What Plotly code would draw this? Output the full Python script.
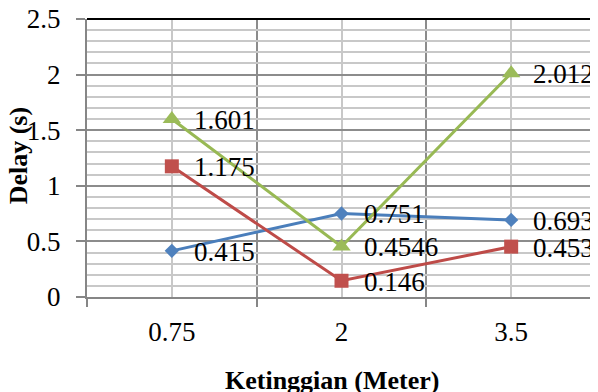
import plotly.graph_objects as go

categories = ["0.75", "2", "3.5"]
series_blue = [0.415, 0.751, 0.693]
series_red = [1.175, 0.146, 0.453]
series_green = [1.601, 0.4546, 2.012]
label_blue = ["0.415", "0.751", "0.693"]
label_red = ["1.175", "0.146", "0.453"]
label_green = ["1.601", "0.4546", "2.012"]
y_ticks = [0, 0.5, 1, 1.5, 2, 2.5]
y_ticktext = ["0", "0.5", "1", "1.5", "2", "2.5"]

xpos = list(range(len(categories)))
FONT = "Liberation Serif"

fig = go.Figure()
specs = [
    (series_blue, label_blue, "#4A7EBB", "#4F81BD", "diamond", 11),
    (series_red, label_red, "#BE4B48", "#C0504D", "square", 14),
    (series_green, label_green, "#98B954", "#9BBB59", "triangle-up", 16),
]
annotations = []
for vals, labels, lc, mc, sym, ms in specs:
    fig.add_trace(go.Scatter(
        x=xpos, y=vals, mode="lines+markers",
        line=dict(color=lc, width=3),
        marker=dict(symbol=sym, size=ms, color=mc, line=dict(width=0)),
        showlegend=False, hoverinfo="skip"))
    for xv, yv, t in zip(xpos, vals, labels):
        annotations.append(dict(
            x=xv, y=yv, xref="x", yref="y", text=t, showarrow=False,
            xanchor="left", yanchor="middle", xshift=20, yshift=-1,
            font=dict(family=FONT, size=27, color="black")))

annotations.append(dict(
    text="<b>Ketinggian (Meter)</b>", xref="paper", yref="paper",
    x=0.482, y=-0.30, xanchor="center", yanchor="middle", showarrow=False,
    font=dict(family=FONT, size=26, color="black")))
annotations.append(dict(
    text="<b>Delay (s)</b>", xref="paper", yref="paper", textangle=-90,
    x=-0.135, y=0.507, xanchor="center", yanchor="middle", showarrow=False,
    font=dict(family=FONT, size=26, color="black")))

# the page body has an 8px margin, so the figure is sized to fill the window from there
fig.update_layout(
    width=590, height=384,
    margin=dict(l=79, r=2, t=11, b=95),
    paper_bgcolor="white", plot_bgcolor="white",
    annotations=annotations,
    shapes=[
        dict(type="line", xref="paper", yref="paper", x0=0, x1=1, y0=1, y1=1,
             line=dict(color="black", width=2), layer="above"),
        dict(type="line", xref="paper", yref="paper", x0=1, x1=1, y0=0, y1=1,
             line=dict(color="black", width=2.5), layer="above"),
    ],
)
fig.update_xaxes(
    range=[-0.5, 2.5], tickmode="array", tickvals=xpos, ticktext=categories,
    ticks="", showgrid=True, gridcolor="#C8C8C8", gridwidth=2,
    showline=True, linecolor="#868686", linewidth=2, zeroline=False,
    tickfont=dict(family=FONT, size=27, color="black"),
    ticklabelstandoff=10, ticklabeloverflow="allow", automargin=False,
    minor=dict(tickmode="array", tickvals=[-0.5, 0.5, 1.5, 2.5], ticks="outside",
               ticklen=8, tickcolor="#868686", tickwidth=2,
               showgrid=True, gridcolor="#8C8C8C", gridwidth=1.5),
)
fig.update_yaxes(
    range=[0, 2.5], tickmode="array", tickvals=y_ticks, ticktext=y_ticktext,
    ticks="outside", ticklen=9, tickcolor="#868686", tickwidth=2,
    showgrid=True, gridcolor="#8C8C8C", gridwidth=1.5,
    showline=True, linecolor="#868686", linewidth=2, zeroline=False,
    tickfont=dict(family=FONT, size=27, color="black"),
    ticklabelstandoff=10, ticklabeloverflow="allow", automargin=False,
    minor=dict(dtick=0.1, tick0=0, showgrid=True, gridcolor="#C8C8C8", gridwidth=2, ticks=""),
)

fig.write_html("out.html")
